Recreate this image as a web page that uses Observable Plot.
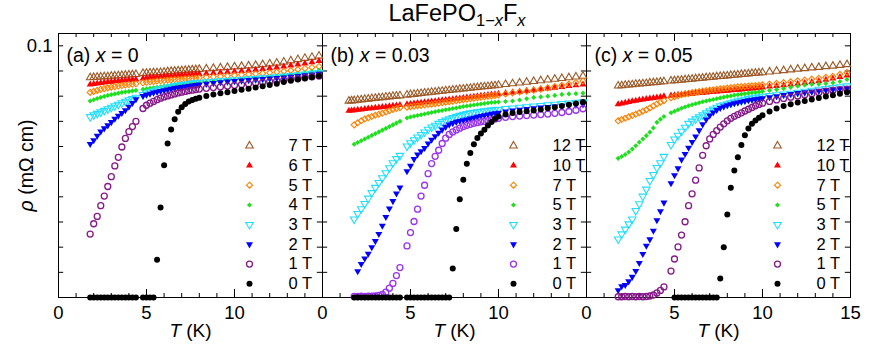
<!DOCTYPE html>
<html><head><meta charset="utf-8">
<script src="https://cdn.jsdelivr.net/npm/d3@7"></script>
<script src="https://cdn.jsdelivr.net/npm/@observablehq/plot@0.6"></script>
<style>
body{margin:0;background:#fff;font-family:"Liberation Sans",Arial,sans-serif;}
#title{position:relative;width:872px;height:28px;z-index:2;}
#title span.t{position:absolute;left:457px;top:0px;transform:translateX(-50%);font-size:23.5px;line-height:27px;white-space:nowrap;color:#000;}
#title span.s{font-size:70%;position:relative;top:0.3em;}
#chart{position:relative;z-index:1;}
</style></head><body>
<div id="title"><span class="t">LaFePO<span class="s">1−<i>x</i></span>F<span class="s"><i>x</i></span></span></div>
<div id="chart"></div>
<script>
// ---------- data (T in K, rho in mOhm cm) ----------
const aFields = ["7 T","6 T","5 T","4 T","3 T","2 T","1 T","0 T"];
const bFields = ["12 T","10 T","7 T","5 T","3 T","2 T","1 T","0 T"];
const cFields = ["12 T","10 T","7 T","5 T","3 T","2 T","1 T","0 T"];

const aT = [1.8,2.0,2.2,2.4,2.6,2.8,3.0,3.2,3.4,3.6,3.8,4.0,4.2,4.4,
  4.8,5.0,5.2,5.4,5.6,5.8,6.0,6.2,6.4,6.6,6.8,7.0,7.2,7.4,7.6,7.8,8.0,
  8.4,8.8,9.2,9.6,10.0,10.4,10.8,11.2,11.6,12.0,12.4,12.8,13.2,13.6,14.0,14.4,14.8];
const a7 = [0.0874,0.0875,0.0876,0.0877,0.0878,0.0878,0.0880,0.0881,0.0882,0.0883,0.0884,0.0885,0.0886,0.0887,
  0.0891,0.0892,0.0893,0.0894,0.0894,0.0895,0.0896,0.0898,0.0899,0.0900,0.0901,0.0902,0.0903,0.0904,0.0905,0.0906,0.0907,
  0.0909,0.0911,0.0913,0.0915,0.0917,0.0919,0.0921,0.0923,0.0926,0.0929,0.0932,0.0936,0.0941,0.0946,0.0951,0.0955,0.0960];
const a6 = [0.0846,0.0848,0.0850,0.0852,0.0854,0.0856,0.0857,0.0859,0.0860,0.0862,0.0863,0.0864,0.0865,0.0866,
  0.0870,0.0872,0.0874,0.0875,0.0876,0.0877,0.0878,0.0879,0.0880,0.0881,0.0882,0.0883,0.0884,0.0885,0.0886,0.0887,0.0888,
  0.0890,0.0892,0.0894,0.0896,0.0898,0.0900,0.0902,0.0905,0.0908,0.0911,0.0914,0.0918,0.0922,0.0926,0.0930,0.0935,0.0940];
const a5 = [0.0815,0.0819,0.0823,0.0827,0.0830,0.0833,0.0836,0.0838,0.0840,0.0842,0.0844,0.0846,0.0847,0.0849,
  0.0853,0.0855,0.0857,0.0858,0.0860,0.0861,0.0862,0.0864,0.0865,0.0866,0.0867,0.0868,0.0869,0.0870,0.0871,0.0872,0.0873,
  0.0875,0.0877,0.0879,0.0881,0.0883,0.0885,0.0887,0.0889,0.0891,0.0893,0.0896,0.0899,0.0902,0.0906,0.0910,0.0914,0.0918];
const a4 = [0.0781,0.0786,0.0791,0.0795,0.0799,0.0803,0.0806,0.0809,0.0812,0.0815,0.0817,0.0819,0.0821,0.0823,
  0.0827,0.0829,0.0831,0.0833,0.0835,0.0837,0.0839,0.0841,0.0843,0.0845,0.0846,0.0848,0.0849,0.0850,0.0852,0.0853,0.0854,
  0.0856,0.0859,0.0861,0.0863,0.0865,0.0867,0.0869,0.0871,0.0873,0.0876,0.0879,0.0882,0.0885,0.0889,0.0893,0.0898,0.0903];
const a3 = [0.0718,0.0725,0.0731,0.0737,0.0743,0.0749,0.0755,0.0761,0.0767,0.0773,0.0779,0.0785,0.0790,0.0795,
  0.0806,0.0812,0.0817,0.0821,0.0825,0.0829,0.0832,0.0835,0.0838,0.0841,0.0843,0.0845,0.0847,0.0849,0.0851,0.0853,0.0854,
  0.0856,0.0858,0.0860,0.0862,0.0864,0.0866,0.0868,0.0870,0.0872,0.0874,0.0876,0.0879,0.0881,0.0884,0.0887,0.0890,0.0893];
const a2 = [0.0610,0.0625,0.0643,0.0660,0.0672,0.0684,0.0697,0.0710,0.0722,0.0733,0.0744,0.0758,0.0773,0.0788,
  0.0801,0.0806,0.0810,0.0814,0.0817,0.0820,0.0823,0.0826,0.0829,0.0832,0.0834,0.0836,0.0838,0.0840,0.0842,0.0844,0.0846,
  0.0849,0.0852,0.0855,0.0858,0.0860,0.0862,0.0864,0.0866,0.0868,0.0870,0.0872,0.0874,0.0877,0.0880,0.0883,0.0886,0.0889];
const a1 = [0.0252,0.0293,0.0322,0.0365,0.0403,0.0441,0.0480,0.0523,0.0557,0.0598,0.0632,0.0659,0.0679,0.0700,
  0.0751,0.0764,0.0772,0.0779,0.0786,0.0792,0.0797,0.0801,0.0805,0.0809,0.0813,0.0816,0.0819,0.0822,0.0824,0.0826,0.0828,
  0.0831,0.0834,0.0837,0.0840,0.0843,0.0846,0.0849,0.0852,0.0855,0.0858,0.0861,0.0864,0.0867,0.0870,0.0874,0.0877,0.0880];
const a0 = [0,0,0,0,0,0,0,0,0,0,0,0,0,0,
  0,0,0,0,0.0150,0.0358,0.0525,0.0612,0.0668,0.0708,0.0738,0.0756,0.0769,0.0779,0.0785,0.0790,0.0794,
  0.0801,0.0807,0.0812,0.0816,0.0821,0.0825,0.0829,0.0834,0.0839,0.0844,0.0849,0.0856,0.0861,0.0866,0.0870,0.0875,0.0880];

const bT = [1.5,1.65,1.8,2.0,2.2,2.4,2.6,2.8,3.0,3.2,3.4,3.6,3.8,4.0,4.2,4.4,
  4.8,5.0,5.2,5.4,5.6,5.8,6.0,6.2,6.4,6.6,6.8,7.0,7.2,7.4,7.6,7.8,8.0,8.2,8.4,8.6,8.8,9.0,9.2,9.4,9.6,9.8,10.0,
  10.4,10.8,11.2,11.6,12.0,12.4,12.8,13.2,13.6,14.0,14.4,14.8];
const b12 = [0.0781,0.0782,0.0783,0.0785,0.0786,0.0788,0.0789,0.0791,0.0792,0.0794,0.0795,0.0797,0.0798,0.0800,0.0801,0.0802,
  0.0805,0.0807,0.0808,0.0810,0.0811,0.0813,0.0814,0.0816,0.0817,0.0819,0.0820,0.0822,0.0823,0.0825,0.0826,0.0828,0.0829,0.0831,0.0832,0.0834,0.0835,0.0837,0.0838,0.0839,0.0841,0.0842,0.0844,
  0.0847,0.0850,0.0853,0.0856,0.0859,0.0862,0.0865,0.0868,0.0871,0.0874,0.0877,0.0880];
const b10 = [0.0742,0.0743,0.0744,0.0746,0.0747,0.0749,0.0751,0.0752,0.0754,0.0755,0.0757,0.0758,0.0760,0.0762,0.0763,0.0765,
  0.0768,0.0769,0.0771,0.0773,0.0774,0.0776,0.0777,0.0779,0.0780,0.0782,0.0784,0.0785,0.0787,0.0788,0.0790,0.0791,0.0793,0.0795,0.0796,0.0798,0.0799,0.0801,0.0802,0.0804,0.0806,0.0807,0.0809,
  0.0812,0.0815,0.0818,0.0821,0.0824,0.0828,0.0831,0.0834,0.0837,0.0840,0.0843,0.0846];
const b7 = [null,null,0.0686,0.0694,0.0702,0.0709,0.0714,0.0719,0.0724,0.0728,0.0732,0.0737,0.0742,0.0747,0.0751,0.0754,
  0.0756,0.0758,0.0760,0.0762,0.0763,0.0765,0.0767,0.0768,0.0770,0.0772,0.0774,0.0776,0.0778,0.0780,0.0782,0.0784,0.0786,0.0788,0.0790,0.0792,0.0794,0.0796,0.0798,0.0800,0.0801,0.0803,0.0805,
  0.0809,0.0813,0.0817,0.0820,0.0824,0.0828,0.0833,0.0838,0.0843,0.0848,0.0854,0.0860];
const b5 = [null,null,0.0609,0.0616,0.0623,0.0630,0.0637,0.0644,0.0651,0.0658,0.0665,0.0672,0.0679,0.0686,0.0693,0.0700,
  0.0713,0.0717,0.0720,0.0723,0.0726,0.0729,0.0732,0.0735,0.0738,0.0741,0.0743,0.0746,0.0748,0.0751,0.0753,0.0756,0.0759,0.0761,0.0763,0.0765,0.0767,0.0769,0.0771,0.0773,0.0775,0.0776,0.0777,
  0.0779,0.0781,0.0785,0.0790,0.0795,0.0797,0.0800,0.0803,0.0807,0.0809,0.0810,0.0812];
const b3 = [null,null,0.0311,0.0333,0.0352,0.0373,0.0394,0.0416,0.0437,0.0456,0.0475,0.0495,0.0515,0.0535,0.0551,0.0564,
  0.0601,0.0614,0.0626,0.0637,0.0647,0.0657,0.0668,0.0677,0.0684,0.0691,0.0698,0.0704,0.0709,0.0714,0.0719,0.0723,0.0727,0.0730,0.0733,0.0735,0.0737,0.0739,0.0741,0.0743,0.0744,0.0746,0.0747,
  0.0750,0.0752,0.0755,0.0757,0.0760,0.0762,0.0765,0.0767,0.0770,0.0772,0.0775,0.0777];
const b2 = [null,null,null,0.0104,0.0133,0.0155,0.0174,0.0200,0.0224,0.0252,0.0285,0.0320,0.0354,0.0383,0.0413,0.0437,
  0.0502,0.0523,0.0550,0.0568,0.0581,0.0594,0.0612,0.0627,0.0641,0.0655,0.0667,0.0678,0.0687,0.0693,0.0698,0.0701,0.0704,0.0707,0.0711,0.0714,0.0718,0.0721,0.0724,0.0727,0.0730,0.0732,0.0734,
  0.0739,0.0743,0.0746,0.0749,0.0752,0.0755,0.0757,0.0759,0.0761,0.0763,0.0765,0.0767];
const b1 = [null,null,0.0004,0.0004,0.0005,0.0004,0.0005,0.0005,0.0006,0.0008,0.0012,0.0021,0.0037,0.0056,0.0087,0.0119,
  0.0205,0.0258,0.0302,0.0351,0.0403,0.0446,0.0492,0.0532,0.0561,0.0585,0.0612,0.0633,0.0648,0.0658,0.0666,0.0673,0.0679,0.0684,0.0688,0.0692,0.0695,0.0698,0.0700,0.0703,0.0706,0.0709,0.0712,
  0.0716,0.0719,0.0721,0.0723,0.0725,0.0727,0.0729,0.0732,0.0735,0.0739,0.0744,0.0750];
const b0 = [null,null,0,0,0,0,0,0,0,0,0,0,0,0,0,0,
  0,0,0,0,0,0,0,0,0,0,0,0,0,0.0115,0.0272,0.0390,0.0468,0.0531,0.0574,0.0609,0.0634,0.0652,0.0667,0.0683,0.0697,0.0710,0.0719,
  0.0727,0.0733,0.0737,0.0740,0.0743,0.0747,0.0752,0.0756,0.0761,0.0766,0.0771,0.0777];

const cT = [1.8,2.0,2.2,2.4,2.6,2.8,3.0,3.2,3.4,3.6,3.8,4.0,4.2,4.4,
  4.8,5.0,5.2,5.4,5.6,5.8,6.0,6.2,6.4,6.6,6.8,7.0,7.2,7.4,7.6,7.8,8.0,8.2,8.4,8.6,8.8,9.0,9.2,9.4,9.6,9.8,10.0,
  10.4,10.8,11.2,11.6,12.0,12.4,12.8,13.2,13.6,14.0,14.4,14.8];
const c12 = [0.0841,0.0842,0.0844,0.0845,0.0846,0.0848,0.0849,0.0850,0.0851,0.0853,0.0854,0.0855,0.0857,0.0858,
  0.0861,0.0862,0.0863,0.0864,0.0866,0.0867,0.0868,0.0870,0.0871,0.0872,0.0874,0.0875,0.0876,0.0878,0.0879,0.0880,0.0881,0.0883,0.0884,0.0885,0.0887,0.0888,0.0889,0.0891,0.0892,0.0893,0.0894,
  0.0897,0.0900,0.0902,0.0905,0.0908,0.0910,0.0913,0.0915,0.0918,0.0920,0.0923,0.0926];
const c10 = [0.0768,0.0771,0.0774,0.0777,0.0780,0.0782,0.0785,0.0787,0.0789,0.0791,0.0793,0.0795,0.0797,0.0799,
  0.0802,0.0803,0.0805,0.0806,0.0808,0.0809,0.0810,0.0812,0.0813,0.0814,0.0815,0.0817,0.0818,0.0819,0.0820,0.0821,0.0822,0.0824,0.0825,0.0826,0.0827,0.0829,0.0830,0.0831,0.0832,0.0834,0.0835,
  0.0838,0.0840,0.0843,0.0846,0.0849,0.0852,0.0856,0.0860,0.0865,0.0870,0.0876,0.0882];
const c7 = [0.0702,0.0707,0.0712,0.0718,0.0723,0.0728,0.0734,0.0740,0.0746,0.0753,0.0761,0.0769,0.0776,0.0782,
  0.0794,0.0798,0.0802,0.0806,0.0809,0.0811,0.0814,0.0816,0.0818,0.0820,0.0822,0.0824,0.0825,0.0827,0.0829,0.0830,0.0832,0.0834,0.0835,0.0837,0.0838,0.0839,0.0840,0.0841,0.0842,0.0843,0.0845,
  0.0848,0.0851,0.0854,0.0857,0.0861,0.0864,0.0868,0.0871,0.0875,0.0879,0.0887,0.0894];
const c5 = [0.0553,0.0560,0.0568,0.0578,0.0590,0.0603,0.0617,0.0630,0.0643,0.0657,0.0674,0.0696,0.0708,0.0719,
  0.0734,0.0740,0.0746,0.0752,0.0757,0.0762,0.0766,0.0770,0.0774,0.0778,0.0781,0.0784,0.0787,0.0790,0.0793,0.0796,0.0799,0.0801,0.0804,0.0806,0.0808,0.0810,0.0812,0.0814,0.0815,0.0817,0.0819,
  0.0823,0.0826,0.0830,0.0835,0.0840,0.0844,0.0847,0.0848,0.0850,0.0853,0.0858,0.0866];
const c3 = [0.0232,0.0252,0.0271,0.0292,0.0311,0.0345,0.0372,0.0402,0.0430,0.0464,0.0488,0.0516,0.0535,0.0560,
  0.0607,0.0629,0.0644,0.0660,0.0676,0.0691,0.0700,0.0709,0.0717,0.0725,0.0733,0.0741,0.0748,0.0755,0.0761,0.0765,0.0769,0.0773,0.0777,0.0781,0.0784,0.0787,0.0790,0.0793,0.0795,0.0797,0.0799,
  0.0802,0.0805,0.0808,0.0811,0.0815,0.0819,0.0823,0.0827,0.0830,0.0834,0.0837,0.0840];
const c2 = [0.0029,0.0045,0.0050,0.0064,0.0082,0.0105,0.0137,0.0173,0.0206,0.0231,0.0265,0.0307,0.0343,0.0377,
  0.0454,0.0486,0.0513,0.0548,0.0570,0.0595,0.0618,0.0640,0.0664,0.0688,0.0707,0.0723,0.0735,0.0745,0.0753,0.0759,0.0764,0.0768,0.0772,0.0775,0.0778,0.0781,0.0784,0.0786,0.0788,0.0790,0.0792,
  0.0796,0.0800,0.0805,0.0809,0.0812,0.0815,0.0818,0.0821,0.0824,0.0826,0.0829,0.0831];
const c1 = [0.0003,0.0003,0.0004,0.0003,0.0004,0.0003,0.0004,0.0003,0.0004,0.0006,0.0010,0.0018,0.0028,0.0042,
  0.0105,0.0153,0.0201,0.0248,0.0301,0.0365,0.0412,0.0466,0.0515,0.0565,0.0603,0.0630,0.0648,0.0663,0.0677,0.0690,0.0702,0.0712,0.0720,0.0727,0.0734,0.0741,0.0748,0.0755,0.0762,0.0767,0.0772,
  0.0779,0.0785,0.0791,0.0796,0.0801,0.0806,0.0810,0.0815,0.0820,0.0824,0.0826,0.0828];
const c0 = [null,null,null,null,null,null,null,null,null,null,null,null,null,null,
  null,0,0,0,0,0,0,0,0,0,0,0,0,0,0.0075,0.0200,0.0330,0.0436,0.0505,0.0557,0.0606,0.0645,0.0672,0.0690,0.0703,0.0714,0.0724,
  0.0739,0.0751,0.0761,0.0768,0.0775,0.0781,0.0787,0.0793,0.0799,0.0804,0.0810,0.0816];

const panelLabels = ["(a) x = 0", "(b) x = 0.03", "(c) x = 0.05"];
const xMinor = [0,1,2,3,4,5,6,7,8,9,10,11,12,13,14,15];
const xMajor = [0,5,10,15];
const yTicks = [0.01,0.02,0.03,0.04,0.05,0.06,0.07,0.08,0.09,0.1];
const xTickLabels = [[0,5,10],[0,5,10],[0,5,10,15]];

// ---------- layout ----------
const W = 872, H = 320, mt = 5, mb = 51, ml = 57, mr = 20.5;
const fh = H - mt - mb, fw = (W - ml - mr) / 3;

const triDown = {draw(context, size) {
  const y = -Math.sqrt(size / (Math.sqrt(3) * 3));
  context.moveTo(0, -y * 2);
  context.lineTo(-Math.sqrt(3) * y, y);
  context.lineTo(Math.sqrt(3) * y, y);
  context.closePath();
}};
function styleFor(i, purple) {
  return [
    {symbol: "triangle", fill: "none", stroke: "#9c5a28", strokeWidth: 1.1, r: 2.8},
    {symbol: "triangle", fill: "#ff0000", stroke: "none", r: 2.6},
    {symbol: "diamond2", fill: "none", stroke: "#ff7f00", strokeWidth: 1.1, r: 2.7},
    {symbol: "diamond2", fill: "#1fe01f", stroke: "none", r: 2.3},
    {symbol: triDown, fill: "none", stroke: "#22ddff", strokeWidth: 1.1, r: 2.8},
    {symbol: triDown, fill: "#0000ff", stroke: "none", r: 2.6},
    {symbol: "circle", fill: "none", stroke: purple, strokeWidth: 1.3, r: 3.0},
    {symbol: "circle", fill: "#000", stroke: "none", r: 3.0}
  ][i];
}
const panelsDef = [
  {id: "a", T: aT, series: [a7,a6,a5,a4,a3,a2,a1,a0], fields: aFields, purple: "#86198a"},
  {id: "b", T: bT, series: [b12,b10,b7,b5,b3,b2,b1,b0], fields: bFields, purple: "#9933ee"},
  {id: "c", T: cT, series: [c12,c10,c7,c5,c3,c2,c1,c0], fields: cFields, purple: "#86198a"}
];

const marks = [];
marks.push(Plot.frame({stroke: "#000"}));
// inward ticks
marks.push(Plot.tickX(xMinor, {x: d => d, insetTop: fh - 4, stroke: "#000"}));
marks.push(Plot.tickX(xMajor, {x: d => d, insetTop: fh - 8, stroke: "#000"}));
marks.push(Plot.tickX(xMinor, {x: d => d, insetBottom: fh - 4, stroke: "#000"}));
marks.push(Plot.tickX(xMajor, {x: d => d, insetBottom: fh - 8, stroke: "#000"}));
marks.push(Plot.tickY(yTicks, {y: d => d, insetRight: fw - 6, stroke: "#000"}));
marks.push(Plot.tickY(yTicks, {y: d => d, insetLeft: fw - 6, stroke: "#000"}));

// series
panelsDef.forEach(p => {
  p.series.forEach((arr, i) => {
    if (arr.length !== p.T.length) console.warn("length mismatch", p.id, i, arr.length, p.T.length);
    const rows = p.T.map((t, j) => ({panel: p.id, T: t, rho: arr[j]})).filter(d => d.rho != null);
    marks.push(Plot.dot(rows, {fx: "panel", x: "T", y: "rho", ...styleFor(i, p.purple)}));
  });
  // legend
  p.fields.forEach((lab, i) => {
    const dy = -151.7 + 19.71 * i;
    marks.push(Plot.dot([{panel: p.id}], {fx: "panel", frameAnchor: "bottom-left", dx: 191, dy, ...styleFor(i, p.purple)}));
    marks.push(Plot.text([{panel: p.id, label: lab}], {fx: "panel", text: "label", frameAnchor: "bottom-left", dx: 230, dy,
      textAnchor: "start", lineAnchor: "middle", fontSize: 16.5, fill: "#000"}));
  });
});

// tick labels
const xl = [];
panelsDef.forEach((p, k) => xTickLabels[k].forEach(v => xl.push({panel: p.id, v})));
marks.push(Plot.text(xl, {fx: "panel", x: "v", text: d => String(d.v), frameAnchor: "bottom", dy: 8, lineAnchor: "top", fontSize: 18.5, fill: "#000"}));
marks.push(Plot.text([0.1], {fx: d => "a", y: d => d, text: d => "0.1", frameAnchor: "left", dx: -6, textAnchor: "end", lineAnchor: "middle", fontSize: 18.5, fill: "#000"}));
// axis labels
marks.push(Plot.text(["T (K)"], {frameAnchor: "bottom", dy: 26, lineAnchor: "top", fontSize: 19, fill: "#000"}));
marks.push(Plot.text(["ρ (mΩ cm)"], {fx: d => "a", frameAnchor: "left", dx: -32, rotate: -90, textAnchor: "middle", lineAnchor: "middle", fontSize: 19.5, fill: "#000"}));
// panel labels
marks.push(Plot.text(panelsDef.map((p, k) => ({panel: p.id, label: panelLabels[k]})), {fx: "panel", text: "label", frameAnchor: "top-left", dx: 8, dy: 15, textAnchor: "start", lineAnchor: "top", fontSize: 19.5, fill: "#000"}));

const svg = Plot.plot({
  width: W, height: H, marginTop: mt, marginBottom: mb, marginLeft: ml, marginRight: mr,
  style: {fontFamily: "'Liberation Sans', Arial, sans-serif", fontSize: "17px", background: "transparent", overflow: "visible"},
  fx: {domain: ["a","b","c"], padding: 0, axis: null, label: null},
  x: {domain: [0, 15], axis: null},
  y: {domain: [0, 0.1049], axis: null},
  marks
});

// italics
d3.select(svg).selectAll("text").each(function() {
  const t = this.textContent;
  let parts = null;
  if (t === "T (K)") parts = [["T", true], [" (K)", false]];
  else if (t === "ρ (mΩ cm)") parts = [["ρ", true], [" (mΩ cm)", false]];
  else {
    const m = t.match(/^(\(\w\) )x( = .*)$/);
    if (m) parts = [[m[1], false], ["x", true], [m[2], false]];
  }
  if (parts) {
    const el = d3.select(this);
    el.text(null);
    parts.forEach(([s, it]) => el.append("tspan").attr("font-style", it ? "italic" : null).text(s));
  }
});
document.getElementById("chart").appendChild(svg);
</script>
</body></html>
